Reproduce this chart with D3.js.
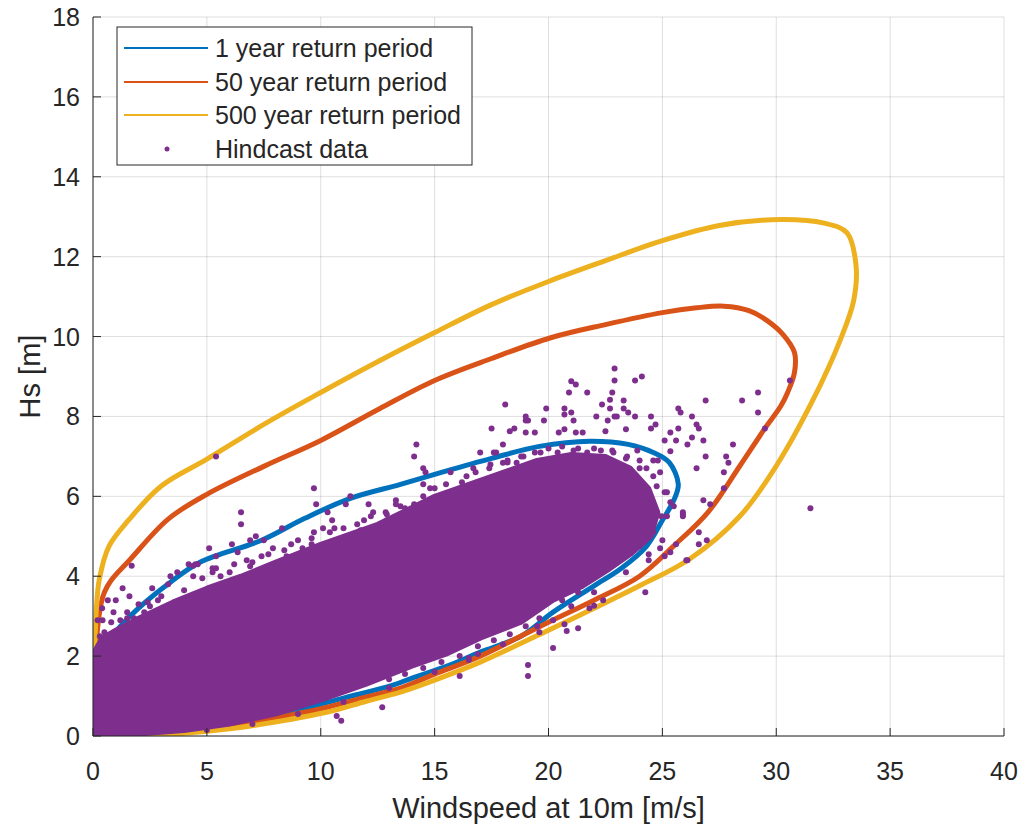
<!DOCTYPE html>
<html>
<head>
<meta charset="utf-8">
<script src="https://cdn.jsdelivr.net/npm/d3@7/dist/d3.min.js"></script>
<style>
  html, body { margin: 0; padding: 0; background: #fff; }
  svg { display: block; font-family: "Liberation Sans", Arial, Helvetica, sans-serif; }
</style>
</head>
<body>
<svg id="chart" width="1023" height="829"></svg>
<script>
// Axis ticks
const xTicks = [0, 5, 10, 15, 20, 25, 30, 35, 40];
const yTicks = [0, 2, 4, 6, 8, 10, 12, 14, 16, 18];

// Environmental contours (windspeed U [m/s], significant wave height Hs [m])
const contour1U  = [0.3,0.25,0.3,0.4,0.57,1.0,2.0,3.4,4.7,7.4,9.3,11.3,13.5,15.3,17.5,19.6,21.8,23.5,24.6,25.3,25.7,25.5,25.0,24.3,23.2,22.0,20.2,18.8,17.0,15.6,14.1,13.1,11.0,9.0,7.0,5.0,3.0,1.5,0.6];
const contour1Hs = [0.5,1.0,1.5,1.85,2.1,2.6,3.2,3.85,4.35,4.9,5.45,5.95,6.3,6.6,6.95,7.25,7.38,7.3,7.1,6.85,6.3,5.9,5.4,4.75,4.2,3.76,3.1,2.5,2.1,1.76,1.47,1.26,0.95,0.65,0.42,0.26,0.15,0.1,0.15];

const contour50U  = [0.08,0.07,0.1,0.17,0.35,0.5,0.8,1.6,3.3,5.0,7.5,10.0,12.6,15.0,17.5,20.1,22.5,25.0,26.5,27.7,28.8,29.6,30.3,30.8,30.8,30.5,30.2,29.5,28.4,27.0,25.5,24.0,22.0,20.0,17.0,15.0,13.5,12.0,10.3,8.0,6.0,4.0,2.0,0.8,0.2];
const contour50Hs = [0.2,0.8,1.6,2.5,3.3,3.6,3.9,4.4,5.43,6.05,6.75,7.4,8.2,8.9,9.45,9.97,10.3,10.6,10.72,10.76,10.65,10.4,10.05,9.6,9.1,8.6,8.26,7.7,6.76,5.6,4.76,4.0,3.4,2.85,2.0,1.55,1.2,0.98,0.72,0.45,0.25,0.12,0.05,0.02,0.03];

const contour500U  = [0.04,0.05,0.08,0.15,0.28,0.7,1.6,3.0,5.0,7.5,10.0,12.6,15.0,17.5,20.1,22.5,25.0,27.5,30.2,32.1,33.1,33.5,33.4,32.8,31.6,30.0,28.4,26.2,24.0,22.0,20.0,17.0,15.0,13.5,12.0,10.3,8.0,6.0,4.0,2.0,0.5,0.1];
const contour500Hs = [0.3,1.2,2.2,3.2,3.93,4.75,5.43,6.26,6.93,7.8,8.6,9.4,10.1,10.8,11.4,11.9,12.4,12.78,12.93,12.84,12.6,11.8,10.9,9.9,8.4,6.76,5.5,4.43,3.76,3.2,2.65,1.85,1.4,1.1,0.87,0.6,0.35,0.18,0.07,0.02,0.0,0.02];

// Hindcast data: outline of the densely covered region
const coreU  = [0.0,0.0,0.05,0.4,1.0,2.0,3.5,5.0,6.5,8.0,10.0,12.5,15.0,17.5,19.5,21.0,22.5,23.6,24.4,24.8,24.5,23.6,22.6,21.5,20.2,18.8,17.0,15.5,14.0,12.0,10.0,8.0,6.0,4.0,2.0,0.5];
const coreHs = [0.0,1.2,2.1,2.45,2.65,2.95,3.35,3.7,4.0,4.35,4.8,5.3,6.0,6.5,6.9,7.05,7.0,6.7,6.2,5.6,5.0,4.55,4.15,3.75,3.4,2.85,2.45,2.05,1.75,1.3,0.9,0.55,0.3,0.14,0.05,0.01];

// Hindcast data: individual records outside the dense region
const hindU = [
  22.9,24.1,22.9,23.8,21.0,21.2,20.9,21.7,22.8,18.1,22.35,22.7,22.7,23.3,19.9,20.7,20.7,21.0,21.1,23.3,
  23.5,22.1,22.9,22.6,23.0,23.8,24.5,25.7,25.8,26.3,26.9,28.5,29.2,29.2,29.5,19.0,19.0,19.8,17.5,18.3,
  18.5,19.0,19.4,20.45,20.7,21.2,21.5,22.5,23.4,24.5,24.7,25.35,25.7,26.5,26.6,26.3,26.1,26.8,28.1,25.1,
  25.6,25.35,26.9,27.8,27.9,26.5,27.7,27.7,26.8,27.1,25.9,25.9,26.6,26.95,26.6,26.1,17.0,17.6,18.0,15.7,
  16.4,18.0,18.6,30.6,31.5,24.25,25.6,24.9,25.1,25.35,24.4,25.9,26.05,
  9.7,9.8,11.3,11.1,6.5,6.5,12.1,12.3,12.85,13.3,13.3,13.7,14.5,14.5,15.0,14.6,8.3,9.7,10.1,10.6,
  10.3,10.5,11.9,11.75,12.9,7.15,7.5,6.9,6.1,6.35,5.1,7.9,8.7,9.2,9.6,7.4,8.5,6.75,6.9,5.4,
  5.4,4.2,4.5,6.0,3.7,4.4,5.25,2.6,3.3,3.4,2.25,2.85,
  1.7,1.3,0.65,1.0,4.4,4.6,5.25,0.42,0.8,2.4,2.7,5.4,
  20.2,19.1,19.1,21.3,20.7,20.8,21.8,22.0,22.4,16.1,16.5,16.9,19.6,20.2,
  14.2,14.1,14.5,17.7,19.1,24.8,10.7,10.9,12.7,
  0.3,0.5,0.2,1.2,1.5,1.8,0.9,2.0,1.6,0.4,
  24.0,24.3,24.6,24.9,24.0,24.75,24.5,25.2,25.35,24.75,24.2,24.6,23.75,23.45,24.0,25.5,24.95,23.0,23.2,23.75,
  23.45,23.9,23.45,22.85,22.3,21.7,21.1,20.4,19.65,18.9,18.2,17.45,16.7,
  1.5,2.5,3.0,4.0,4.8,5.6,6.2,7.0,7.7,8.4,9.0,9.6,10.4,11.0,11.6,12.2,12.9,13.5,14.1,14.8,
  15.5,16.2,16.8,17.4,18.2,18.8,19.4,20.0,20.6,21.3,22.0,22.8,23.4,24.0,24.6,25.1,25.2,25.0,24.4,23.4,
  22.0,21.0,19.5,18.0,16.5,15.0,13.0,11.0,9.0,7.0,5.0,
  14.5,15.3,16.1,16.9,17.6,18.3,19.0,19.6,20.6,21.3,13.7,13.0
];
const hindHs = [
  9.2,9.0,8.9,8.9,8.88,8.8,8.6,8.6,8.6,8.3,8.3,8.42,8.2,8.4,8.2,8.2,8.05,8.1,7.9,8.2,
  8.1,8.0,8.0,7.9,8.0,8.0,8.0,8.2,8.1,8.0,8.4,8.4,8.6,8.1,7.7,8.0,7.9,7.9,7.7,7.63,
  7.7,7.6,7.6,7.6,7.68,7.6,7.6,7.63,7.68,7.7,7.8,7.6,7.7,7.8,7.7,7.47,7.3,7.4,7.3,7.4,
  7.4,7.13,7.0,7.0,6.84,6.7,6.6,6.2,5.9,5.8,5.6,5.5,5.1,4.9,4.8,4.4,7.1,7.1,7.3,6.6,
  6.5,6.84,6.84,8.9,5.7,3.6,4.8,4.7,4.5,4.6,4.4,5.55,4.4,
  6.2,5.8,6.0,5.8,5.6,5.3,5.8,5.6,5.6,5.9,5.8,5.7,6.3,6.0,6.2,6.6,5.2,5.1,5.2,5.2,
  5.6,5.4,5.4,5.15,5.4,5.0,4.9,4.9,4.8,4.6,4.7,4.7,4.8,4.7,4.8,4.5,4.5,4.4,4.25,4.5,
  4.2,4.3,4.3,4.1,4.1,4.0,4.2,3.7,3.8,4.0,3.1,3.4,
  4.26,3.7,3.4,3.4,4.26,4.3,4.1,2.9,2.85,3.35,3.0,7.0,
  2.2,1.78,1.5,2.7,2.8,2.63,3.2,3.26,3.4,1.5,1.9,2.05,2.6,2.9,
  7.3,7.0,6.7,7.1,7.9,6.9,0.5,0.38,0.72,
  2.5,2.6,2.9,2.9,3.1,2.95,3.1,3.3,3.5,3.2,
  6.9,6.7,6.9,6.6,6.4,6.25,5.9,6.1,5.85,5.6,5.25,5.1,5.4,4.9,4.75,5.75,5.5,5.25,5.6,5.9,
  6.25,7.15,7.0,7.1,7.15,7.1,7.15,7.1,7.1,7.0,6.9,6.8,6.7,
  2.95,3.25,3.5,3.65,3.95,4.0,4.3,4.35,4.55,4.65,4.9,4.95,5.1,5.2,5.3,5.5,5.55,5.75,5.8,6.2,
  6.3,6.35,6.6,6.7,6.85,7.0,7.1,7.2,7.25,7.2,7.2,7.15,6.95,6.7,6.5,6.1,5.5,4.9,4.55,4.1,
  3.6,3.25,2.75,2.3,1.95,1.6,1.2,0.85,0.55,0.3,0.15,
  1.7,1.85,2.0,2.25,2.4,2.55,2.75,2.95,3.4,3.6,1.55,1.42
];

const seriesNames = ["1 year return period", "50 year return period", "500 year return period", "Hindcast data"];
const seriesColors = ["#0072BD", "#D95319", "#EDB120", "#7E2F8E"];

const svg = d3.select("#chart");
const ink = "#262626";
const plot = { left: 93, right: 1004, top: 17, bottom: 736 };

const x = d3.scaleLinear().domain([0, 40]).range([plot.left, plot.right]);
const y = d3.scaleLinear().domain([0, 18]).range([plot.bottom, plot.top]);

svg.append("defs").append("clipPath").attr("id", "plotClip")
  .append("rect")
  .attr("x", plot.left).attr("y", plot.top)
  .attr("width", plot.right - plot.left).attr("height", plot.bottom - plot.top);

// grid
const grid = svg.append("g");
grid.selectAll("line.gx").data(xTicks).join("line")
  .attr("x1", d => x(d)).attr("x2", d => x(d))
  .attr("y1", plot.top).attr("y2", plot.bottom)
  .attr("stroke", ink).attr("stroke-opacity", 0.15).attr("stroke-width", 1);
grid.selectAll("line.gy").data(yTicks).join("line")
  .attr("x1", plot.left).attr("x2", plot.right)
  .attr("y1", d => y(d)).attr("y2", d => y(d))
  .attr("stroke", ink).attr("stroke-opacity", 0.15).attr("stroke-width", 1);

const layer = svg.append("g").attr("clip-path", "url(#plotClip)");

// contours
const closedLine = d3.line().x(d => x(d[0])).y(d => y(d[1])).curve(d3.curveCatmullRomClosed.alpha(0.5));
const contours = [
  d3.zip(contour1U, contour1Hs),
  d3.zip(contour50U, contour50Hs),
  d3.zip(contour500U, contour500Hs)
];
contours.forEach((pts, i) => {
  layer.append("path")
    .attr("d", closedLine(pts))
    .attr("fill", "none")
    .attr("stroke", seriesColors[i])
    .attr("stroke-width", 5)
    .attr("stroke-linejoin", "round");
});

// hindcast: dense region
const coreLine = d3.line().x(d => x(d[0])).y(d => y(d[1])).curve(d3.curveLinearClosed);
layer.append("path")
  .attr("d", coreLine(d3.zip(coreU, coreHs)))
  .attr("fill", seriesColors[3])
  .attr("stroke", seriesColors[3])
  .attr("stroke-width", 5)
  .attr("stroke-linejoin", "round");

// hindcast: individual records
layer.selectAll("circle.hind").data(d3.zip(hindU, hindHs)).join("circle")
  .attr("class", "hind")
  .attr("cx", d => x(d[0])).attr("cy", d => y(d[1]))
  .attr("r", 3)
  .attr("fill", seriesColors[3]);

// axes
const axes = svg.append("g").attr("fill", ink).attr("stroke", "none");
svg.append("line").attr("x1", plot.left).attr("x2", plot.right).attr("y1", plot.bottom).attr("y2", plot.bottom)
  .attr("stroke", ink).attr("stroke-width", 1);
svg.append("line").attr("x1", plot.left).attr("x2", plot.left).attr("y1", plot.top).attr("y2", plot.bottom)
  .attr("stroke", ink).attr("stroke-width", 1);

svg.selectAll("line.xt").data(xTicks).join("line")
  .attr("x1", d => x(d)).attr("x2", d => x(d))
  .attr("y1", plot.bottom).attr("y2", plot.bottom - 8)
  .attr("stroke", ink).attr("stroke-width", 1);
svg.selectAll("line.yt").data(yTicks).join("line")
  .attr("x1", plot.left).attr("x2", plot.left + 8)
  .attr("y1", d => y(d)).attr("y2", d => y(d))
  .attr("stroke", ink).attr("stroke-width", 1);

axes.selectAll("text.xl").data(xTicks).join("text")
  .attr("x", d => x(d)).attr("y", 780)
  .attr("text-anchor", "middle")
  .attr("font-size", 25)
  .text(d => d);
axes.selectAll("text.yl").data(yTicks).join("text")
  .attr("x", 80).attr("y", d => y(d) + 9)
  .attr("text-anchor", "end")
  .attr("font-size", 25)
  .text(d => d);

axes.append("text")
  .attr("x", (plot.left + plot.right) / 2).attr("y", 818)
  .attr("text-anchor", "middle")
  .attr("font-size", 29)
  .text("Windspeed at 10m [m/s]");
axes.append("text")
  .attr("transform", `translate(40, ${(plot.top + plot.bottom) / 2}) rotate(-90)`)
  .attr("text-anchor", "middle")
  .attr("font-size", 29)
  .text("Hs [m]");

// legend
const legend = svg.append("g");
legend.append("rect")
  .attr("x", 117).attr("y", 27).attr("width", 355).attr("height", 138)
  .attr("fill", "#fff").attr("stroke", ink).attr("stroke-width", 1);
const rowY = [48, 82, 115, 149];
seriesNames.forEach((name, i) => {
  if (i < 3) {
    legend.append("line")
      .attr("x1", 124).attr("x2", 208).attr("y1", rowY[i]).attr("y2", rowY[i])
      .attr("stroke", seriesColors[i]).attr("stroke-width", 2);
  } else {
    legend.append("circle")
      .attr("cx", 167).attr("cy", rowY[i]).attr("r", 2.5)
      .attr("fill", seriesColors[i]);
  }
  legend.append("text")
    .attr("x", 215).attr("y", rowY[i] + 9)
    .attr("font-size", 25).attr("fill", ink)
    .text(name);
});
</script>
</body>
</html>
